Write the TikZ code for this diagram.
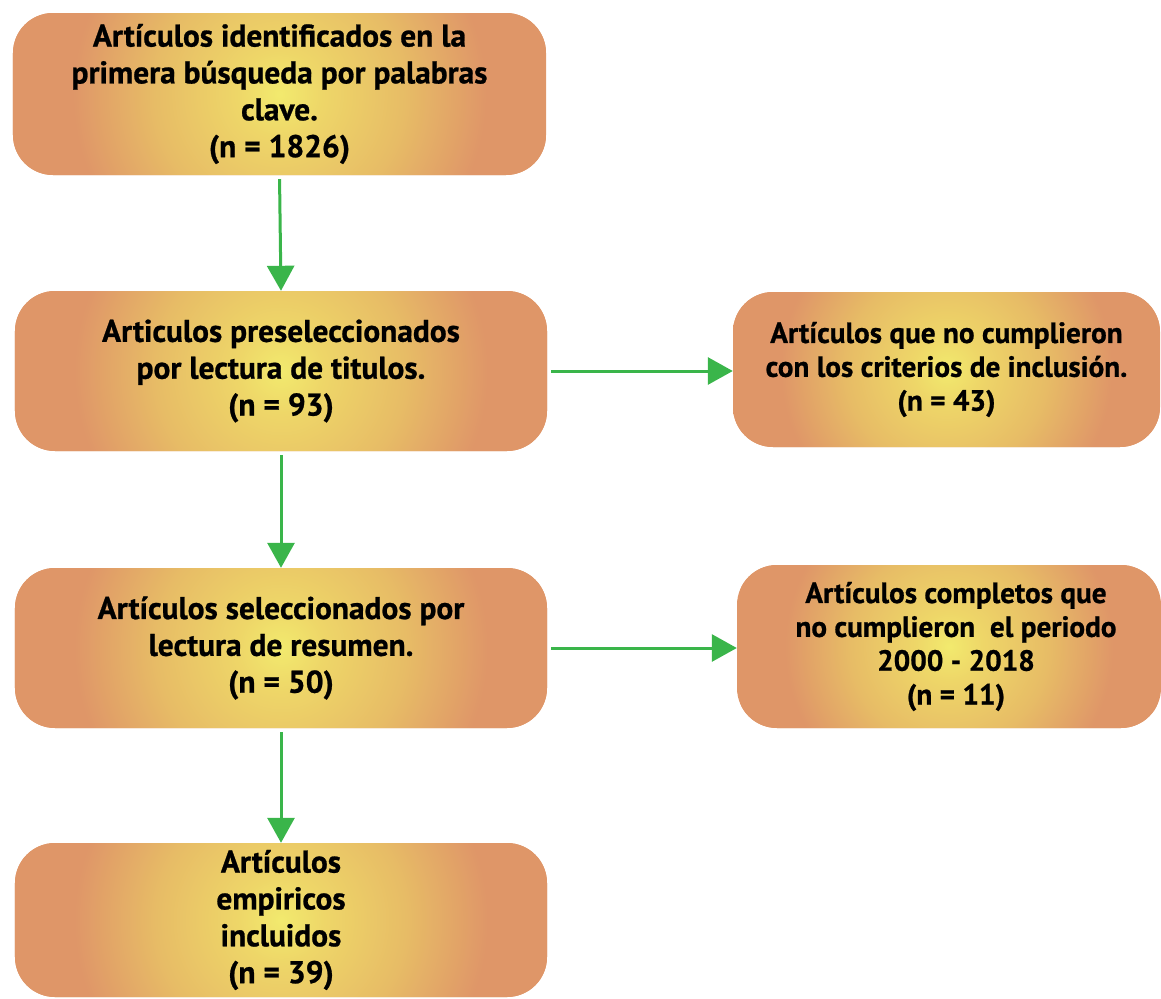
\documentclass[tikz,border=0pt]{standalone}
\usepackage{fontspec}
\setmainfont{PT Sans}[BoldFeatures={FakeBold=0.8}]
\usetikzlibrary{arrows.meta}
\definecolor{shy}{RGB}{242,234,110}
\definecolor{shy2}{RGB}{238,214,104}
\definecolor{shm}{RGB}{231,188,102}
\definecolor{sho}{RGB}{223,150,104}
\definecolor{arrowgreen}{RGB}{58,181,74}
\pgfdeclareradialshading{boxshade}{\pgfpoint{0bp}{0bp}}{color(0bp)=(shy); color(4bp)=(shy2); color(11.5bp)=(shm); color(19bp)=(sho); color(50bp)=(sho)}
\tikzset{
  gbox/.style={rectangle, rounded corners=40bp, fill=sho, align=center,
    font=\bfseries\fontsize{31.5}{37}\selectfont, inner sep=0pt,
    path picture={\shade[shading=boxshade] (path picture bounding box.center) circle[radius=#1];}},
  conn/.style={draw=arrowgreen, line width=3bp, -{Triangle[width=27bp,length=25bp]}, shorten <=4bp}
}
\begin{document}
\begin{tikzpicture}[x=1bp,y=-1bp]
\useasboundingbox (0,0) rectangle (1161,999);
\node[gbox=272bp, minimum width=533bp, minimum height=162bp] (b1) at (279.5,94)
  {Artículos identificados en la\\primera búsqueda por palabras\\clave.\\(n = 1826)};
\node[gbox=272bp, minimum width=532bp, minimum height=160bp] (b2) at (281,371)
  {Articulos preseleccionados\\por lectura de titulos.\\(n = 93)};
\node[gbox=272bp, minimum width=532bp, minimum height=160bp] (b3) at (281,648)
  {Artículos seleccionados por\\lectura de resumen.\\(n = 50)};
\node[gbox=272bp, minimum width=532bp, minimum height=154bp] (b4) at (281,920)
  {Artículos\\empiricos\\incluidos\\(n = 39)};
\node[gbox=218bp, minimum width=427bp, minimum height=155bp,
  font=\bfseries\fontsize{29.3}{34}\selectfont] (r1) at (946.5,369.5)
  {Artículos que no cumplieron\\con los criterios de inclusión.\\(n = 43)};
\node[gbox=216bp, minimum width=424bp, minimum height=163bp,
  font=\bfseries\fontsize{29.3}{34}\selectfont] (r2) at (949,646.5)
  {\hspace*{14bp}Artículos completos que\\\hspace*{14bp}no cumplieron\ \ el periodo\\\hspace*{14bp}2000 - 2018\\\hspace*{14bp}(n = 11)};
\draw[conn] (b1.south) -- (b2.north);
\draw[conn] (b2.south) -- (b3.north);
\draw[conn] (b3.south) -- (b4.north);
\draw[conn] (b2.east) -- (b2.east -| r1.west);
\draw[conn] (b3.east) -- (b3.east -| r2.west);
\end{tikzpicture}
\end{document}
